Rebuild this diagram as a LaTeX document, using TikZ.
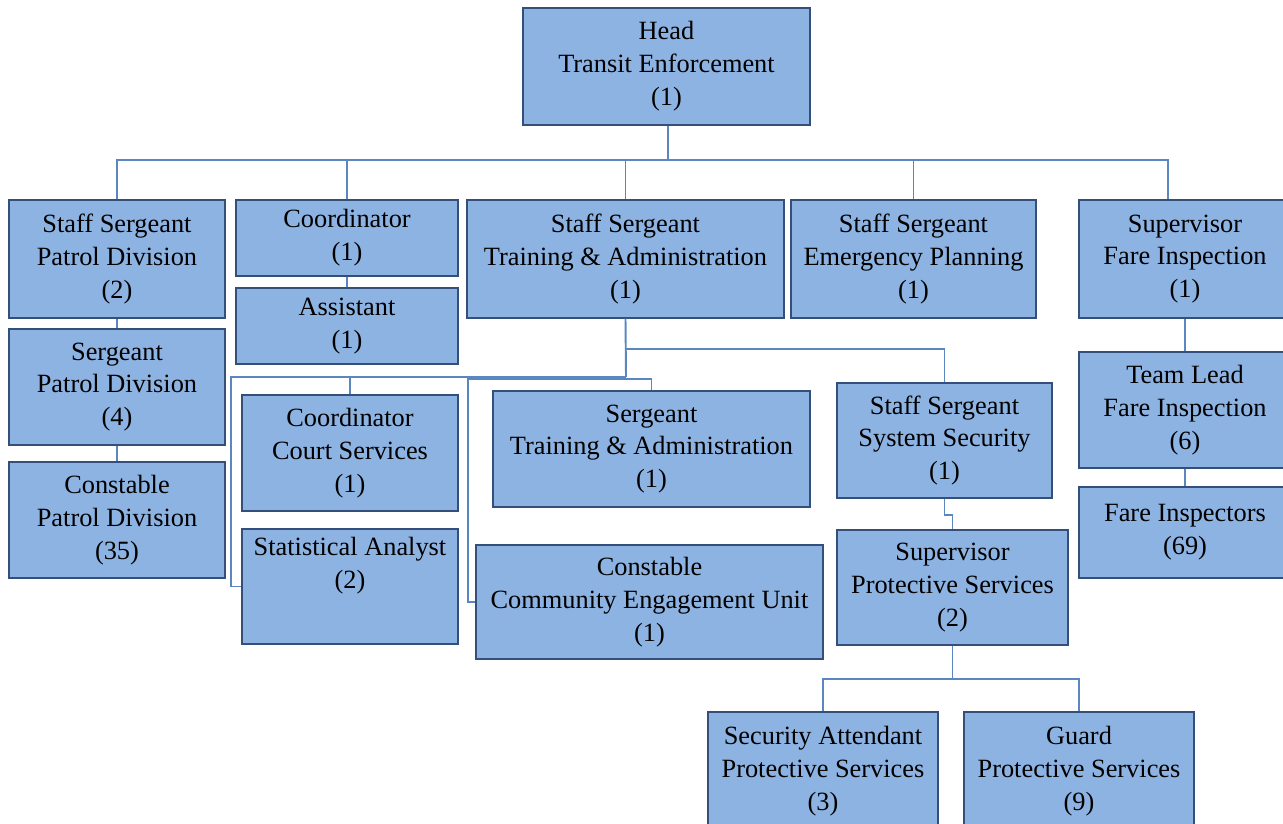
\documentclass[tikz,border=0pt]{standalone}
\usepackage{fontspec}
\setmainfont{Liberation Serif}
\usepackage{tikz}
\usetikzlibrary{positioning}

\definecolor{boxfill}{HTML}{8DB3E2}
\definecolor{boxline}{HTML}{34507A}
\definecolor{wire}{HTML}{5A87C0}

\begin{document}
\begin{tikzpicture}[
  x=0.2mm, y=-0.2mm,
  font=\fontsize{15}{18.7}\selectfont,
  box/.style={draw=boxline, line width=0.8pt, fill=boxfill, align=center,
              inner sep=2pt},
  ln/.style={draw=wire, line width=1.1pt},
]
\useasboundingbox (0,0) rectangle (1283,823);

\node[box, minimum width=57.4mm, minimum height=23.4mm] (head) at (666.5,66.5)
     {Head\\ Transit Enforcement\\ (1)};

\node[box, minimum width=43.2mm, minimum height=23.6mm] (spd) at (117,259)
     {Staff Sergeant\\ Patrol Division\\ (2)};
\node[box, minimum width=44.4mm, minimum height=15.2mm] (coord) at (347,238)
     {Coordinator\\ (1)};
\node[box, minimum width=63.4mm, minimum height=23.6mm] (sta) at (625.5,259)
     {Staff Sergeant\\ Training \& Administration\\ (1)};
\node[box, minimum width=49mm, minimum height=23.6mm] (sep) at (913.5,259)
     {Staff Sergeant\\ Emergency Planning\\ (1)};
\node[box, minimum width=42.4mm, minimum height=23.6mm] (sfi) at (1185,259)
     {Supervisor\\ Fare Inspection\\ (1)};

\node[box, minimum width=44.4mm, minimum height=15.2mm] (asst) at (347,326)
     {Assistant\\ (1)};
\node[box, minimum width=43.2mm, minimum height=23.2mm] (sgp) at (117,387)
     {Sergeant\\ Patrol Division\\ (4)};
\node[box, minimum width=43.2mm, minimum height=23.2mm] (cpd) at (117,520)
     {Constable\\ Patrol Division\\ (35)};

\node[box, minimum width=43.2mm, minimum height=23.2mm] (ccs) at (350,453)
     {Coordinator\\ Court Services\\ (1)};
\node[box, minimum width=43.2mm, minimum height=23mm, text depth=27pt]
     (san) at (350,586.5) {Statistical Analyst\\ (2)};
\node[box, minimum width=63.4mm, minimum height=23.2mm] (sgta) at (651.5,449)
     {Sergeant\\ Training \& Administration\\ (1)};
\node[box, minimum width=69.4mm, minimum height=22.8mm] (cce) at (649.5,602)
     {Constable\\ Community Engagement Unit\\ (1)};
\node[box, minimum width=43mm, minimum height=23mm] (sss) at (944.5,440.5)
     {Staff Sergeant\\ System Security\\ (1)};
\node[box, minimum width=46.2mm, minimum height=23mm] (sps) at (952.5,587.5)
     {Supervisor\\ Protective Services\\ (2)};

\node[box, minimum width=46mm, minimum height=23.6mm] (sapa) at (823,771)
     {Security Attendant\\ Protective Services\\ (3)};
\node[box, minimum width=46mm, minimum height=23.6mm] (gpa) at (1079,771)
     {Guard\\ Protective Services\\ (9)};

\node[box, minimum width=42.4mm, minimum height=23.2mm] (tlf) at (1185,410)
     {Team Lead\\ Fare Inspection\\ (6)};
\node[box, minimum width=42.4mm, minimum height=18.2mm] (fin) at (1185,532.5)
     {Fare Inspectors\\ (69)};

\coordinate (hub) at (668,160);
\coordinate (tj) at (626,349);
\coordinate (tk) at (626,377);
\coordinate (tm) at (626,379);
\coordinate (pj) at (952.5,679);

% top level
\draw[ln] (head.south -| hub) -- (hub);
\draw[ln] (spd.north) |- (hub) -| ([xshift=-3.4mm]sfi.north);
\draw[ln] (coord.north |- hub) -- (coord.north);
\draw[ln] (sta.north |- hub) -- (sta.north);
\draw[ln] (sep.north |- hub) -- (sep.north);

% columns
\draw[ln] (spd) -- (sgp);
\draw[ln] (sgp) -- (cpd);
\draw[ln] (coord) -- (asst);
\draw[ln] (sfi) -- (tlf);
\draw[ln] (tlf) -- (fin);

% training & administration
\draw[ln] (sta.south) -- (tk);
\draw[ln] (tk) -| ([xshift=-2mm]san.west) -- (san.west);
\draw[ln] (ccs.north |- tk) -- (ccs.north);
\draw[ln] (cce.west) -- ++(-7,0) |- (tm) -| (sgta.north);
\draw[ln] (tj) -| (sss.north);
\draw[ln] (sss.south) -- ++(0,16) -| (sps.north);

% protective services
\draw[ln] (sps.south) -- (pj);
\draw[ln] (sapa.north) |- (pj) -| (gpa.north);

\end{tikzpicture}
\end{document}
